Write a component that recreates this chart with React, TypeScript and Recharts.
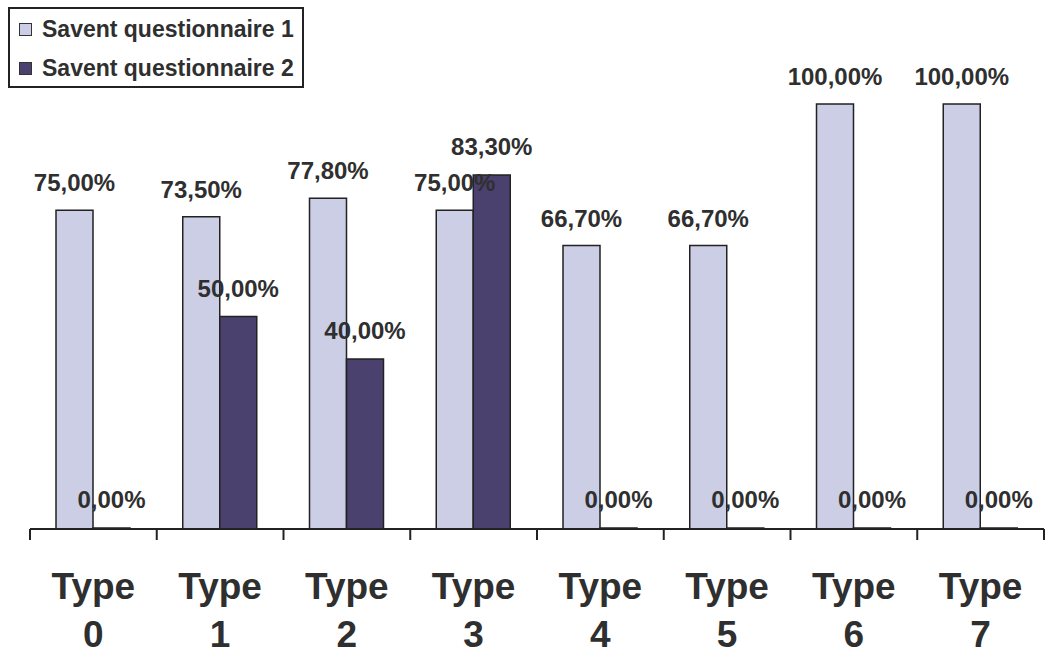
import React from "react";
import { Bar, BarChart, XAxis, YAxis, LabelList } from "recharts";

const categories = ["0", "1", "2", "3", "4", "5", "6", "7"];
const questionnaire1 = [75, 73.5, 77.8, 75, 66.7, 66.7, 100, 100];
const questionnaire2 = [0, 50, 40, 83.3, 0, 0, 0, 0];
const seriesNames = ["Savent questionnaire 1", "Savent questionnaire 2"];

const W = 1046;
const H = 655;
const margin = { top: 104, right: 2, left: 30, bottom: 0 };
const axisHeight = 126;
const bandWidth = (W - margin.left - margin.right) / categories.length;
const axisY = H - margin.bottom - axisHeight;

const FONT = "'Liberation Sans', Arial, sans-serif";
const TEXT = "#2f2f2f";
const LIGHT = "#cbcee4";
const DARK = "#4a416f";

const data = categories.map((c, i) => ({
  name: c,
  q1: questionnaire1[i],
  q2: questionnaire2[i],
}));

const fmt = (v: any) => Number(v).toFixed(2).replace(".", ",") + "%";

function TypeTick(props: any) {
  const { x, payload, index } = props;
  const left = x - bandWidth / 2;
  const right = x + bandWidth / 2;
  return (
    <g>
      <line x1={left} x2={left} y1={axisY} y2={axisY + 11} stroke="#222" strokeWidth={2} />
      {index === categories.length - 1 && (
        <line x1={right} x2={right} y1={axisY} y2={axisY + 11} stroke="#222" strokeWidth={2} />
      )}
      <text x={x} y={axisY + 70} textAnchor="middle" fill={TEXT} fontFamily={FONT} fontWeight="bold" fontSize={37}>
        Type
      </text>
      <text x={x} y={axisY + 118} textAnchor="middle" fill={TEXT} fontFamily={FONT} fontWeight="bold" fontSize={37}>
        {payload.value}
      </text>
    </g>
  );
}

function LegendBox() {
  const colors = [LIGHT, DARK];
  return (
    <div
      style={{
        position: "absolute",
        left: 8,
        top: 7,
        width: 296,
        height: 81,
        border: "2px solid #222",
        boxSizing: "border-box",
        background: "#fff",
        fontFamily: FONT,
        fontWeight: "bold",
        fontSize: 23,
        color: TEXT,
        paddingTop: 1,
      }}
    >
      {seriesNames.map((n, i) => (
        <div key={n} style={{ display: "flex", alignItems: "center", height: 39, paddingLeft: 9 }}>
          <span
            style={{
              display: "inline-block",
              width: 11,
              height: 11,
              background: colors[i],
              border: "1.5px solid #333",
              marginRight: 10,
            }}
          />
          <span>{n}</span>
        </div>
      ))}
    </div>
  );
}

export default function App() {
  return (
    <div style={{ position: "absolute", left: 0, top: 0, width: W, height: H, background: "#fff" }}>
      <BarChart width={W} height={H} data={data} margin={margin} barGap={0} barSize={37}>
        <XAxis
          dataKey="name"
          height={axisHeight}
          interval={0}
          tickLine={false}
          axisLine={{ stroke: "#222", strokeWidth: 2 }}
          tick={<TypeTick />}
        />
        <YAxis hide domain={[0, 100]} />
        <Bar dataKey="q1" name={seriesNames[0]} fill={LIGHT} stroke="#222" strokeWidth={1.5} isAnimationActive={false}>
          <LabelList
            dataKey="q1"
            position="top"
            offset={19}
            formatter={fmt}
            fill={TEXT}
            fontFamily={FONT}
            fontWeight="bold"
            fontSize={24}
          />
        </Bar>
        <Bar
          dataKey="q2"
          name={seriesNames[1]}
          fill={DARK}
          stroke="#222"
          strokeWidth={1.5}
          minPointSize={1}
          isAnimationActive={false}
        >
          <LabelList
            dataKey="q2"
            position="top"
            offset={20}
            formatter={fmt}
            fill={TEXT}
            fontFamily={FONT}
            fontWeight="bold"
            fontSize={24}
          />
        </Bar>
      </BarChart>
      <LegendBox />
    </div>
  );
}
